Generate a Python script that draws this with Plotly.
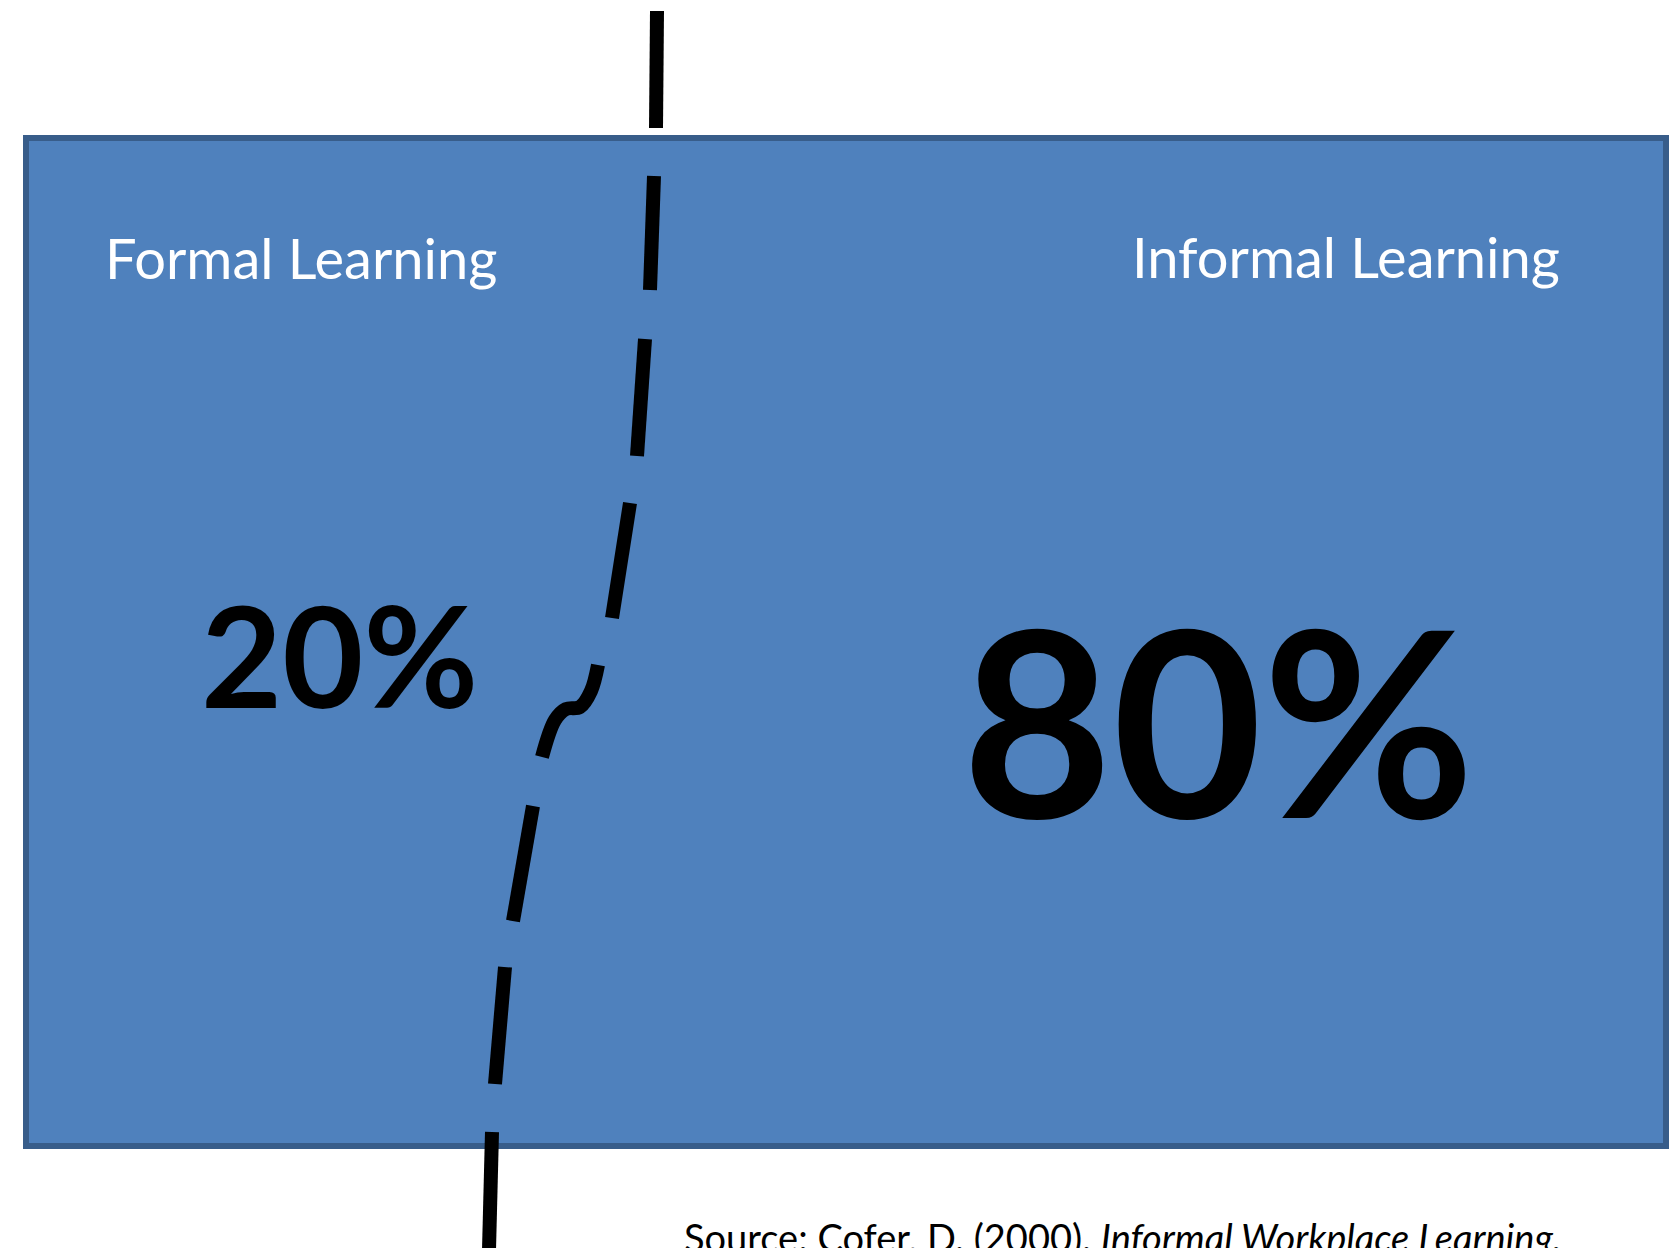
import plotly.graph_objects as go

# ---- data ----
categories = ["Formal Learning", "Informal Learning"]
shares = [20, 80]
source_plain = "Source: Cofer, D. (2000). "
source_italic = "Informal Workplace Learning."

# divider path (hand-drawn dashed curve), pixel coords of the canvas
divider_x = [657, 656, None, 654, 650, None, 645, 637, None, 630, 612, None,
             598, 591, 580, 566, 555, 542, None, 533, 513, None, 505, 495, None, 492, 489]
divider_y = [11, 128, None, 176, 290, None, 339, 456, None, 503, 618, None,
             665, 691, 707, 709, 720, 757, None, 806, 921, None, 967, 1084, None, 1132, 1250]

W, H = 1670, 1248
BLUE = "#4F81BD"
EDGE = "#385D8A"
FONT = "Lato"

fig = go.Figure()

# the box
fig.add_shape(type="rect", x0=26, x1=1666, y0=138, y1=1146,
              line=dict(color=EDGE, width=6), fillcolor=BLUE, layer="below")

fig.add_trace(go.Scatter(x=divider_x, y=divider_y, mode="lines",
                         line=dict(color="black", width=14, shape="spline"),
                         connectgaps=False, hoverinfo="skip", showlegend=False))

label_pos = [(301, 257), (1346, 256)]
value_pos = [(339, 654, 140), (1218, 717, 259)]
for cat, v, (lx, ly), (vx, vy, vs) in zip(categories, shares, label_pos, value_pos):
    fig.add_annotation(x=lx, y=ly, text=cat, showarrow=False, xanchor="center", yanchor="middle",
                       font=dict(family=FONT, size=56, color="white"))
    fig.add_annotation(x=vx, y=vy, text=f"<b>{v}%</b>", showarrow=False, xanchor="center",
                       yanchor="middle", font=dict(family=FONT, size=vs, color="black"))

fig.add_annotation(x=682, y=1237, text=f"{source_plain}<i>{source_italic}</i>", showarrow=False,
                   xanchor="left", yanchor="middle", font=dict(family=FONT, size=38, color="black"))

fig.update_layout(width=W, height=H, margin=dict(l=0, r=0, t=0, b=0),
                  paper_bgcolor="white", plot_bgcolor="white", showlegend=False,
                  xaxis=dict(range=[0, W], visible=False, fixedrange=True),
                  yaxis=dict(range=[H, 0], visible=False, fixedrange=True))

fig.write_html("out.html", config={"displayModeBar": False})
